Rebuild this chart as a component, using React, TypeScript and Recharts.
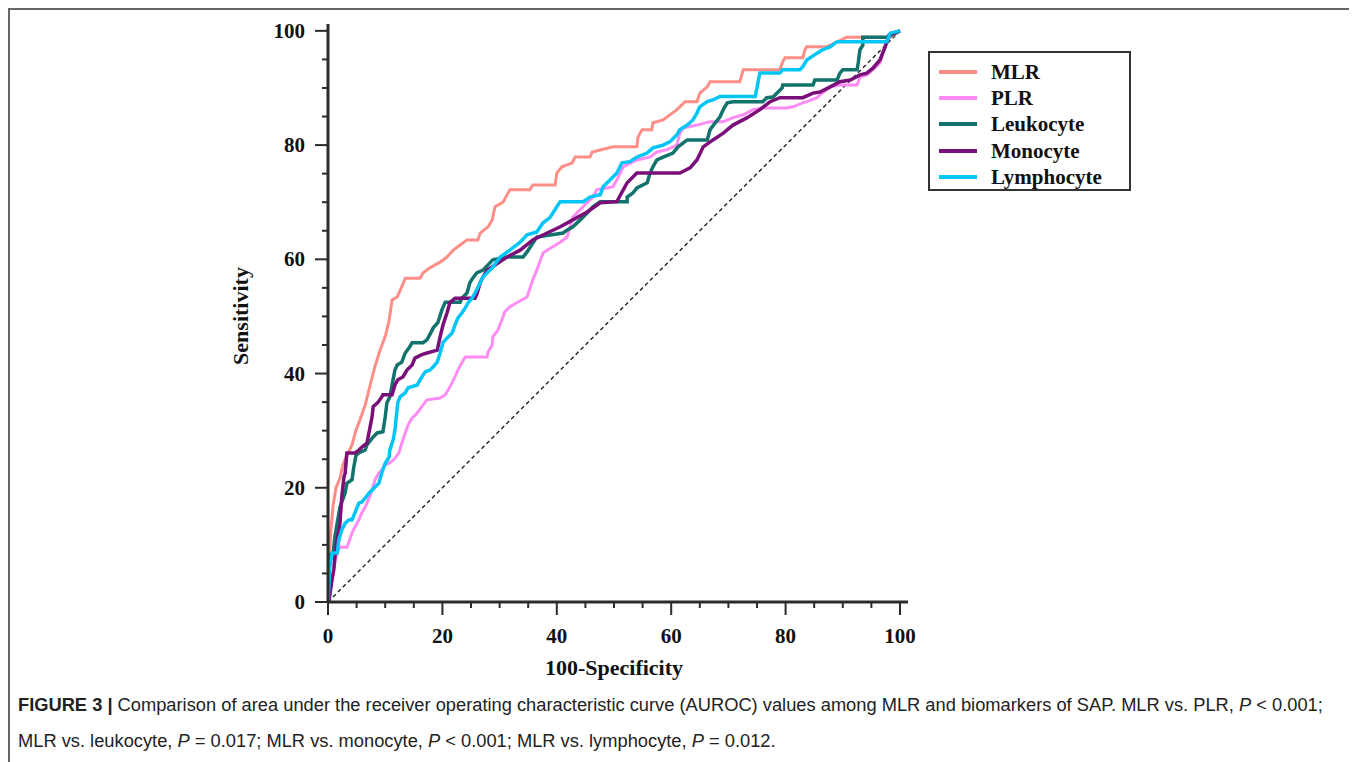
import React from "react";
import { LineChart, Line, XAxis, YAxis } from "recharts";

// ROC curve points: [100-Specificity, Sensitivity]
const mlrPoints: [number, number][] = [
  [0, 0], [0.2, 7.4], [0.5, 12.6], [0.9, 17], [1.4, 20], [2.1, 21.7], [2.6, 24], [3.3, 25.7],
  [4.2, 27.5], [4.9, 30.1], [5.6, 31.9], [6.5, 34.5], [7.3, 37.7], [8.2, 41.2], [9.1, 44.1],
  [10.1, 46.8], [10.7, 49.4], [11.2, 52.9], [12.1, 53.4], [12.9, 55.2], [13.5, 56.7], [16.1, 56.7],
  [16.6, 57.6], [17.8, 58.5], [19.6, 59.5], [20.8, 60.4], [21.9, 61.6], [23.1, 62.5], [24.3, 63.4],
  [26.2, 63.4], [26.6, 64.6], [28, 65.7], [28.7, 66.9], [29.2, 69.2], [30.6, 70], [31.8, 72.2],
  [35.3, 72.2], [35.8, 73], [39.7, 73], [40, 75.1], [40.9, 76.2], [42.7, 76.9], [43.2, 77.9],
  [45.8, 77.9], [46.2, 78.8], [49.8, 79.7], [54, 79.7], [54.2, 81.4], [54.9, 82.7], [56.6, 82.7],
  [56.8, 83.9], [58.6, 84.4], [61, 86.2], [61.5, 86.7], [62.4, 87.6], [64.5, 87.6], [65, 89.1],
  [66.3, 90.2], [66.8, 91.1], [72, 91.1], [72.6, 93.2], [79, 93.2], [79.5, 94.6], [79.9, 95.3],
  [83, 95.3], [83.4, 96.7], [83.7, 97.2], [87.2, 97.2], [90.7, 98.9], [98.3, 98.9], [100, 100],
];

const plrPoints: [number, number][] = [
  [0, 0], [0.2, 0.4], [0.7, 3.9], [1.2, 6.8], [1.6, 8.6], [2.1, 9.6], [3.3, 9.6], [3.8, 10.9],
  [4.2, 12.1], [4.7, 13.1], [5.4, 14.4], [5.9, 15.6], [6.5, 16.6], [7.2, 18.2], [7.7, 19.6],
  [8.2, 21.4], [8.9, 22.6], [9.4, 23.1], [10, 24], [10.7, 24.3], [11.5, 24.9], [12.4, 26.1],
  [12.9, 27.8], [13.5, 29.6], [14, 31], [14.7, 32.2], [15.6, 33.1], [16.4, 34.2], [17.3, 35.4],
  [19.6, 35.7], [20.5, 36.3], [21, 37.1], [21.7, 38.4], [22.2, 39.4], [22.7, 40.6], [23.4, 41.9],
  [24, 42.9], [27.8, 42.9], [28, 43.8], [28.7, 45], [28.8, 46.4], [29.7, 47.6], [30.4, 49.4],
  [30.9, 50.8], [31.8, 51.7], [33, 52.4], [34.8, 53.4], [35.8, 56.4], [36.5, 58.1], [37.6, 61.1],
  [38.3, 61.6], [39.3, 62.2], [40.6, 63], [41.8, 63.9], [42.3, 65.7], [42.8, 67.4], [44.1, 68.7],
  [45.3, 69.9], [46.3, 70.9], [47, 72.2], [48.8, 72.5], [49.8, 72.7], [50.5, 73.9], [51.6, 76.2],
  [54, 77.4], [56.3, 77.9], [57.5, 78.8], [59.3, 79.2], [61, 80], [61.5, 82.1], [62.1, 83],
  [64.5, 83.5], [66.8, 84.1], [69.1, 84.1], [70.8, 84.8], [72.6, 85.3], [74.3, 86.2], [76, 86.5],
  [80.2, 86.5], [81.3, 86.7], [83, 87.4], [83.7, 87.6], [85.5, 88.3], [86, 88.8], [87.2, 89.7],
  [87.8, 90.2], [89.5, 90.5], [92.5, 90.5], [93, 91.9], [94.2, 92.3], [95.3, 93.2], [96.5, 94.4],
  [97, 96.1], [97.7, 97.9], [98.3, 99.6], [100, 100],
];

const leukocytePoints: [number, number][] = [
  [0, 0], [0.2, 8.2], [0.9, 8.6], [1.2, 11.4], [1.6, 13.8], [2.1, 16.6], [3, 19.1], [3.3, 20.8],
  [4.2, 21.4], [4.5, 23.6], [4.9, 25.7], [5.4, 26.1], [6.5, 26.6], [6.8, 27.5], [7.9, 28.9],
  [8.6, 29.6], [9.6, 29.8], [10, 32.4], [10.3, 34.9], [10.8, 35.9], [11.7, 40.6], [12.1, 41.5],
  [12.9, 42], [13.5, 43.6], [14.3, 44.7], [14.7, 45.4], [16.6, 45.4], [17.3, 45.9], [17.8, 46.8],
  [18.4, 48], [19.2, 48.9], [19.9, 51.1], [20.5, 52.5], [23.1, 52.5], [23.4, 53.2], [24.3, 54.1],
  [24.8, 55.9], [25.3, 56.7], [26, 57.6], [27.1, 58.1], [28.8, 59.9], [31.3, 60.4], [34.1, 60.4],
  [34.8, 61.3], [36.5, 63.9], [41.1, 64.6], [41.8, 65.1], [42.8, 65.7], [44.1, 66.9], [45.3, 68.1],
  [46.3, 69.2], [47.6, 70.1], [52.3, 70.1], [52.3, 70.9], [53.3, 71.6], [54, 72.5], [55.8, 73.4],
  [56.3, 75.1], [56.8, 76.2], [57.5, 77.4], [58.6, 77.9], [60.3, 78.6], [61.2, 79.7], [62.8, 80.9],
  [66.3, 80.9], [66.8, 82.7], [67.7, 83.9], [68.5, 84.9], [69.1, 86.2], [69.8, 87.4], [70.8, 87.6],
  [76, 87.6], [76.7, 88.3], [77.8, 88.4], [79.4, 90], [79.5, 90.5], [84.8, 90.5], [85.1, 91.4],
  [89, 91.4], [89.5, 92.6], [90, 93.2], [92.5, 93.2], [92.7, 94.4], [93, 96.7], [93.5, 97.5],
  [93.5, 98.9], [97.7, 98.9], [100, 100],
];

const monocytePoints: [number, number][] = [
  [0, 0], [0.2, 0.4], [0.7, 3.9], [1, 5.6], [1.2, 7.9], [1.6, 10.9], [2.1, 13.8], [2.4, 18.4],
  [2.8, 21.9], [3, 22.6], [3.3, 26.1], [4.7, 26.1], [5.4, 26.6], [5.9, 27.1], [6.8, 27.8],
  [7.7, 32.4], [7.9, 34.2], [8.7, 34.9], [9.4, 35.9], [9.6, 36.3], [11.2, 36.3], [11.7, 38],
  [12.2, 38.9], [13.1, 39.4], [13.8, 40.6], [14.7, 41.5], [15.2, 42.7], [16.4, 43.3], [17.3, 43.6],
  [19.1, 44.1], [19.6, 46.4], [20.1, 48.5], [20.8, 50.6], [21.3, 52.4], [22.2, 53.2], [25.7, 53.2],
  [26, 53.8], [26.6, 55.9], [27.1, 56.9], [27.8, 58.1], [31.3, 60.4], [33.6, 61.6], [35.8, 63.4],
  [38.3, 64.6], [40.6, 65.7], [42.8, 66.9], [45.3, 68.3], [47.6, 69.9], [50.5, 70.1], [52.3, 73.4],
  [54, 75.1], [61.5, 75.1], [63.3, 76], [64.5, 77.4], [65.6, 79.7], [67.3, 80.9], [69.1, 82.1],
  [70.8, 83.5], [73.3, 84.8], [75.5, 86.2], [77.3, 87.6], [79, 88.3], [83, 88.3], [84.8, 89.1],
  [86, 89.3], [87.8, 90.2], [89.5, 91.1], [91.3, 91.4], [93, 92.3], [94.2, 92.6], [95.3, 93.5],
  [96.5, 94.9], [97.4, 97.2], [98.1, 99.3], [100, 100],
];

const lymphocytePoints: [number, number][] = [
  [0, 0], [0.2, 3.9], [0.3, 6.1], [0.7, 8.6], [1.6, 8.6], [1.9, 10.9], [2.4, 12.6], [3, 13.8],
  [3.7, 14.4], [4.2, 14.4], [4.7, 15.6], [5.4, 17.3], [5.9, 17.5], [6.5, 18.2], [7.2, 19.1],
  [7.7, 19.6], [8.9, 20.8], [9.4, 22.6], [10, 24.3], [10.7, 25.4], [10.8, 26.6], [11.4, 28.4],
  [11.7, 30.1], [12.2, 34.9], [12.6, 35.9], [13.5, 36.6], [14, 37.5], [14.7, 37.7], [15.6, 38],
  [16.4, 39.4], [17, 40.3], [17.8, 40.6], [18.4, 41.2], [19.1, 42], [19.6, 43.6], [20.1, 45.4],
  [20.8, 46.2], [21.7, 47.1], [22.2, 48.5], [22.7, 49.7], [23.4, 50.6], [24, 51.5], [24.5, 52.4],
  [25.2, 53.2], [25.7, 54.1], [26.6, 55.9], [27.1, 56.9], [28, 57.8], [28.7, 58.5], [30.1, 60.4],
  [31.8, 61.6], [33.6, 63], [34.8, 64.3], [36.5, 64.8], [37.6, 66.4], [38.8, 67.3], [40, 69.2],
  [40.6, 70.1], [44.6, 70.1], [45.8, 70.9], [47.6, 71.3], [48.1, 72.7], [49.3, 73.9], [50.5, 75.1],
  [51.4, 76.9], [52.8, 77.1], [54, 77.9], [55.8, 78.6], [56.8, 79.5], [58.6, 80], [59.8, 80.6],
  [61, 81.8], [61.5, 82.7], [62.8, 83.5], [63.8, 84.4], [64.5, 85.6], [65, 86.7], [66.3, 87.6],
  [67.3, 87.9], [68.5, 88.5], [74.7, 88.5], [75.5, 92.6], [79, 92.6], [79.5, 93.2], [82.5, 93.2],
  [83, 93.7], [83.7, 94.9], [85.5, 96.1], [86.5, 96.7], [87.8, 97.2], [89, 98.1], [97.7, 98.1],
  [98.3, 99.6], [100, 100],
];

const diagonalPoints: [number, number][] = [[0, 0], [100, 100]];

const seriesNames = ["MLR", "PLR", "Leukocyte", "Monocyte", "Lymphocyte"];
const seriesColors = ["#FF8E86", "#FF8CF4", "#11736C", "#7A0F7A", "#00C6F6"];
const seriesWidths = [3, 3, 3.5, 3.5, 3.5];
const seriesPoints = [mlrPoints, plrPoints, leukocytePoints, monocytePoints, lymphocytePoints];

const axisTicks = [0, 5, 10, 15, 20, 25, 30, 35, 40, 45, 50, 55, 60, 65, 70, 75, 80, 85, 90, 95, 100];

const toData = (pts: [number, number][]) => pts.map(([x, y]) => ({ x, y }));

const SERIF = '"Liberation Serif", "Times New Roman", serif';
const AXIS_COLOR = "#2b2b2b";

const YTick = (props: any) => {
  const { x, y, payload } = props;
  const major = payload.value % 20 === 0;
  return (
    <g>
      <line x1={x - (major ? 13 : 6)} y1={y} x2={x} y2={y} stroke={AXIS_COLOR} strokeWidth={2} />
      {major && (
        <text x={x - 23} y={y} textAnchor="end" dominantBaseline="central" fontFamily={SERIF} fontWeight="bold" fontSize={21} fill="#111">
          {payload.value}
        </text>
      )}
    </g>
  );
};

const XTick = (props: any) => {
  const { x, y, payload } = props;
  const major = payload.value % 20 === 0;
  return (
    <g>
      <line x1={x} y1={y} x2={x} y2={y + (major ? 13 : 6)} stroke={AXIS_COLOR} strokeWidth={2} />
      {major && (
        <text x={x} y={y + 34} textAnchor="middle" dominantBaseline="central" fontFamily={SERIF} fontWeight="bold" fontSize={21} fill="#111">
          {payload.value}
        </text>
      )}
    </g>
  );
};

const YTitle = (props: any) => {
  const vb = props.viewBox;
  const cx = vb.x + vb.width - 88;
  const cy = vb.y + vb.height / 2 + 3;
  return (
    <text x={cx} y={cy} transform={`rotate(-90, ${cx}, ${cy})`} textAnchor="middle" dominantBaseline="central" fontFamily={SERIF} fontWeight="bold" fontSize={22} fill="#111">
      Sensitivity
    </text>
  );
};

const XTitle = (props: any) => {
  const vb = props.viewBox;
  return (
    <text x={vb.x + vb.width / 2 - 4} y={vb.y + 65} textAnchor="middle" dominantBaseline="central" fontFamily={SERIF} fontWeight="bold" fontSize={22} fill="#111">
      100-Specificity
    </text>
  );
};

const LegendBox = () => (
  <div
    style={{
      position: "absolute",
      left: 918,
      top: 41,
      width: 203,
      height: 140,
      border: "2px solid #333",
      background: "#fff",
      boxSizing: "border-box",
      paddingTop: 6,
    }}
  >
    {seriesNames.map((name, i) => (
      <div key={name} style={{ display: "flex", alignItems: "center", height: 26.2 }}>
        <div style={{ marginLeft: 9, width: 38, height: 4, background: seriesColors[i] }} />
        <span style={{ marginLeft: 14, fontFamily: SERIF, fontWeight: "bold", fontSize: 21, color: "#111", lineHeight: "26px" }}>
          {name}
        </span>
      </div>
    ))}
  </div>
);

export default function App() {
  return (
    <div
      style={{
        position: "relative",
        width: 1346,
        height: 770,
        border: "2px solid #666",
        boxSizing: "border-box",
        background: "#fff",
      }}
    >
      <style>{`html, body { overflow: hidden; }`}</style>
      <div style={{ position: "absolute", left: 0, top: 0 }}>
        <LineChart width={1100} height={720} margin={{ top: 14, right: 202, bottom: 68, left: 238 }}>
          <XAxis
            type="number"
            dataKey="x"
            domain={[0, 101.4]}
            ticks={axisTicks}
            interval={0}
            height={60}
            tickSize={0}
            tickMargin={0}
            tick={<XTick />}
            axisLine={{ stroke: AXIS_COLOR, strokeWidth: 3 }}
            allowDataOverflow
            label={<XTitle />}
          />
          <YAxis
            type="number"
            dataKey="y"
            domain={[0, 101.2]}
            ticks={axisTicks}
            interval={0}
            width={80}
            tickSize={0}
            tickMargin={0}
            tick={<YTick />}
            axisLine={{ stroke: AXIS_COLOR, strokeWidth: 3 }}
            allowDataOverflow
            label={<YTitle />}
          />
          <Line
            data={toData(diagonalPoints)}
            dataKey="y"
            type="linear"
            stroke="#222"
            strokeWidth={1.4}
            strokeDasharray="4 3"
            dot={false}
            activeDot={false}
            isAnimationActive={false}
          />
          {seriesNames.map((name, i) => (
            <Line
              key={name}
              name={name}
              data={toData(seriesPoints[i])}
              dataKey="y"
              type="linear"
              stroke={seriesColors[i]}
              strokeWidth={seriesWidths[i]}
              strokeLinejoin="miter"
              dot={false}
              activeDot={false}
              isAnimationActive={false}
            />
          ))}
        </LineChart>
      </div>
      <LegendBox />
      <div
        style={{
          position: "absolute",
          left: 8,
          top: 677,
          fontFamily: '"Liberation Sans", Arial, sans-serif',
          fontSize: 18.3,
          lineHeight: "36px",
          color: "#222",
          whiteSpace: "nowrap",
        }}
      >
        <div>
          <b>FIGURE 3 |</b> Comparison of area under the receiver operating characteristic curve (AUROC) values among MLR and biomarkers of SAP. MLR vs. PLR, <i>P</i> &lt; 0.001;
        </div>
        <div>
          MLR vs. leukocyte, <i>P</i> = 0.017; MLR vs. monocyte, <i>P</i> &lt; 0.001; MLR vs. lymphocyte, <i>P</i> = 0.012.
        </div>
      </div>
    </div>
  );
}
